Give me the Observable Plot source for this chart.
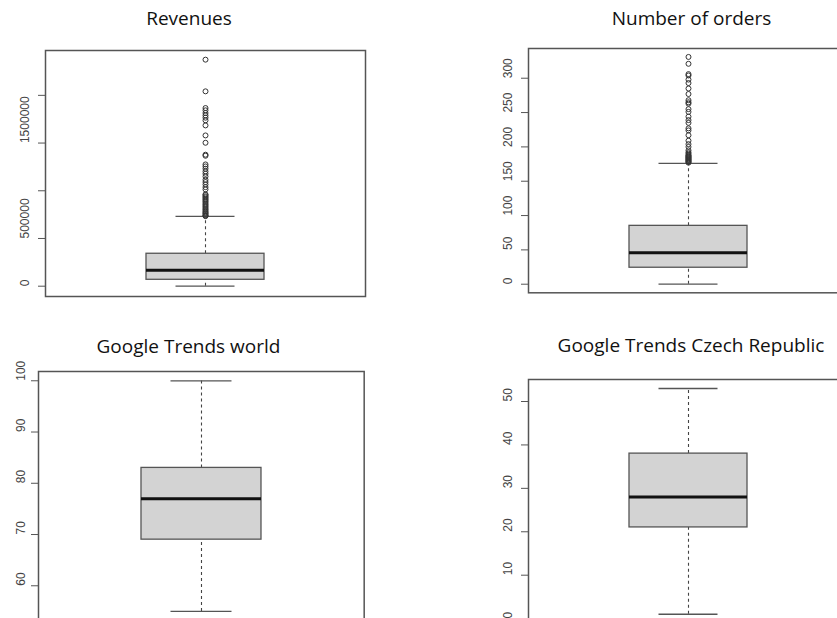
<!DOCTYPE html>
<html>
<head>
<meta charset="utf-8">
<script src="https://cdn.jsdelivr.net/npm/d3@7"></script>
<script src="https://cdn.jsdelivr.net/npm/@observablehq/plot@0.6"></script>
<style>
  html, body { margin: 0; padding: 0; background: #fff; }
  #page { position: relative; width: 837px; height: 618px; overflow: hidden; background: #fff; }
  .title { position: absolute; width: 400px; text-align: center; font-family: "Open Sans", sans-serif;
           font-size: 19px; line-height: 19px; color: #111; white-space: nowrap; }
  .panel { position: absolute; }
</style>
</head>
<body>
<div id="page"></div>
<script>
// Box-plot summaries: [lower whisker, Q1, median, Q3, upper whisker]
const revenueStats = [0, 67000, 168000, 340000, 731000];
const revenueOutliers = [2374000, 2042000, 1867000, 1843000, 1815000, 1790000, 1766000, 1738000, 1685000,
  1580000, 1503000, 1378000, 1367000, 1276000, 1255000, 1231000, 1203000, 1178000, 1150000, 1115000,
  1091000, 1066000, 1038000, 1014000, 962000, 955000, 941000, 930000, 916000, 905000, 892000, 880000,
  864000, 852000, 839000, 826000, 811000, 800000, 787000, 776000, 766000, 758000, 745000, 739000, 734000];
const revenueTicks = [0, 500000, 1000000, 1500000, 2000000];
const revenueLabels = [0, 500000, 1500000];

const ordersStats = [0, 24, 46, 85, 176];
const ordersOutliers = [331, 321, 306, 304, 298, 293, 285, 277, 268, 265, 263, 255, 251, 244, 239, 235, 227,
  224, 217, 209, 204, 200, 195, 192, 190, 188, 187, 186, 185, 184, 183, 182, 181, 180, 179, 178, 177];
const ordersTicks = [0, 50, 100, 150, 200, 250, 300];

const worldStats = [55, 69, 77, 83, 100];
const worldOutliers = [];
const worldTicks = [60, 70, 80, 90, 100];

const czechStats = [1, 21, 28, 38, 53];
const czechOutliers = [];
const czechTicks = [0, 10, 20, 30, 40, 50];

const titles = ["Revenues", "Number of orders", "Google Trends world", "Google Trends Czech Republic"];

const panels = [
  {title: titles[0], stats: revenueStats, outliers: revenueOutliers, ticks: revenueTicks, labels: revenueLabels,
   yDomain: [-108000, 2470000], frame: {left: 45, top: 50, width: 320, height: 246}, labelGap: 20, titleX: 189, titleY: 9},
  {title: titles[1], stats: ordersStats, outliers: ordersOutliers, ticks: ordersTicks, labels: ordersTicks,
   yDomain: [-12.5, 343.3], frame: {left: 528.3, top: 48, width: 320, height: 244.3}, labelGap: 20, titleX: 691.5, titleY: 9},
  {title: titles[2], stats: worldStats, outliers: worldOutliers, ticks: worldTicks, labels: worldTicks,
   yDomain: [53.17, 101.81], frame: {left: 38.3, top: 370.7, width: 325.7, height: 249.3}, labelGap: 17, titleX: 188.5, titleY: 337},
  {title: titles[3], stats: czechStats, outliers: czechOutliers, ticks: czechTicks, labels: czechTicks,
   yDomain: [-1.08, 55.07], frame: {left: 528.3, top: 379.3, width: 320, height: 243.8}, labelGap: 20, titleX: 691, titleY: 336}
];

const page = document.getElementById("page");
const M = {left: 50, top: 6, right: 6, bottom: 6};

for (const p of panels) {
  const [lo, q1, med, q3, hi] = p.stats;
  const row = {name: p.title, lo, q1, med, q3, hi};
  const svg = Plot.plot({
    width: M.left + p.frame.width + M.right,
    height: M.top + p.frame.height + M.bottom,
    marginLeft: M.left, marginTop: M.top, marginRight: M.right, marginBottom: M.bottom,
    style: {background: "transparent", overflow: "visible"},
    x: {type: "band", domain: [p.title], padding: 0.46, axis: null},
    y: {domain: p.yDomain, axis: null},
    marks: [
      // dashed whiskers
      Plot.ruleX([row], {x: "name", y1: "q3", y2: "hi", stroke: "#444", strokeWidth: 1.1, strokeDasharray: "3,3"}),
      Plot.ruleX([row], {x: "name", y1: "lo", y2: "q1", stroke: "#444", strokeWidth: 1.1, strokeDasharray: "3,3"}),
      // whisker caps (half the box width)
      Plot.tickY([row], {x: "name", y: "hi", stroke: "#555", strokeWidth: 1.3, inset: 29.5}),
      Plot.tickY([row], {x: "name", y: "lo", stroke: "#555", strokeWidth: 1.3, inset: 29.5}),
      // box
      Plot.barY([row], {x: "name", y1: "q1", y2: "q3", fill: "#d3d3d3", stroke: "#555", strokeWidth: 1.3}),
      // median
      Plot.tickY([row], {x: "name", y: "med", stroke: "#111", strokeWidth: 3}),
      // outliers
      Plot.dot(p.outliers, {x: () => p.title, y: d => d, r: 2.5, stroke: "#333", strokeWidth: 1, fill: "none"}),
      // y axis ticks and rotated labels
      Plot.axisY({ticks: p.ticks, tickSize: 7, tickFormat: () => "", stroke: "#555"}),
      Plot.text(p.labels, {y: d => d, text: d => String(d), frameAnchor: "left", dx: -p.labelGap, rotate: -90,
        fontSize: 12, fill: "#444", fontFamily: "Liberation Sans, Arial, sans-serif"}),
      Plot.frame({stroke: "#555", strokeWidth: 1.5})
    ]
  });
  svg.classList.add("panel");
  svg.style.left = (p.frame.left - M.left) + "px";
  svg.style.top = (p.frame.top - M.top) + "px";
  page.appendChild(svg);

  const t = document.createElement("div");
  t.className = "title";
  t.textContent = p.title;
  t.style.left = (p.titleX - 200) + "px";
  t.style.top = p.titleY + "px";
  page.appendChild(t);
}
</script>
</body>
</html>
